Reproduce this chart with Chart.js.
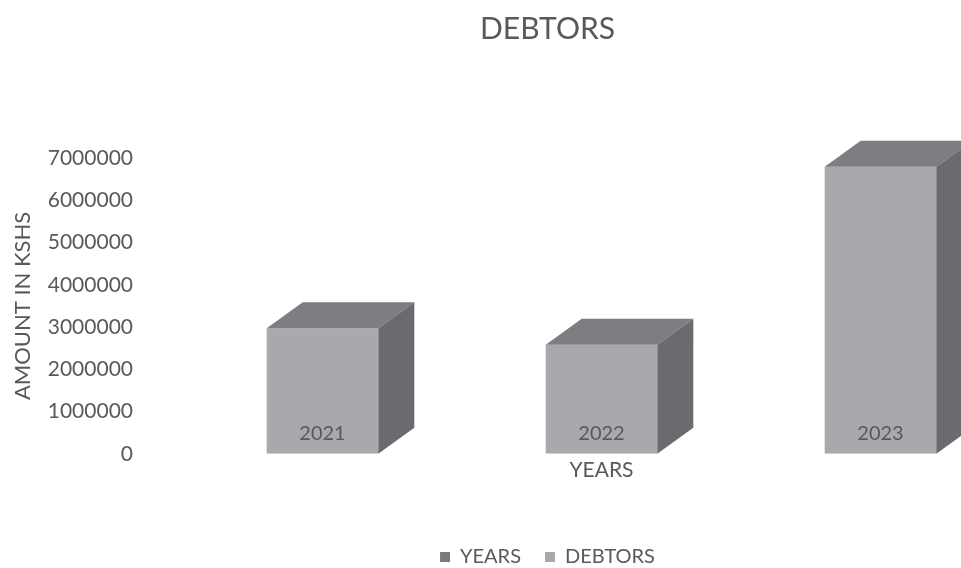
<!DOCTYPE html>
<html lang="en">
  <head>
    <meta charset="UTF-8" />
    <meta name="viewport" content="width=device-width, initial-scale=1.0" />
    <title>Debtors</title>
    <script src="https://cdn.jsdelivr.net/npm/chart.js"></script>
    <style>
      html,
      body {
        margin: 0;
        padding: 0;
        background: #ffffff;
      }
      .chart-wrap {
        width: 961px;
        height: 568px;
        overflow: hidden;
      }
      canvas {
        display: block;
      }
    </style>
  </head>
  <body>
    <div class="chart-wrap">
      <canvas id="debtorsChart" width="1095" height="568"></canvas>
    </div>

    <script>
      // Data
      const years = ["2021", "2022", "2023"];
      const yearSeries = [2021, 2022, 2023];
      const debtors = [2970000, 2580000, 6790000];
      const amountTicks = [
        0, 1000000, 2000000, 3000000, 4000000, 5000000, 6000000, 7000000,
      ];

      const textColor = "#595959";
      const fontFamily = "Lato, 'Open Sans', sans-serif";

      // Top and right faces of each column, built from the bar element
      const columns3d = {
        id: "columns3d",
        afterDatasetsDraw(chart, args, opts) {
          const meta = chart.getDatasetMeta(opts.datasetIndex);
          const ctx = chart.ctx;
          const dx = opts.depthX;
          const dy = opts.depthY;
          ctx.save();
          meta.data.forEach((bar) => {
            const { x, y, base, width } = bar.getProps(
              ["x", "y", "base", "width"],
              true
            );
            const left = x - width / 2;
            const right = x + width / 2;

            // top face
            ctx.fillStyle = opts.topColor;
            ctx.beginPath();
            ctx.moveTo(left, y);
            ctx.lineTo(left + dx, y - dy);
            ctx.lineTo(right + dx, y - dy);
            ctx.lineTo(right, y);
            ctx.closePath();
            ctx.fill();

            // side face
            ctx.fillStyle = opts.sideColor;
            ctx.beginPath();
            ctx.moveTo(right, y);
            ctx.lineTo(right + dx, y - dy);
            ctx.lineTo(right + dx, base - dy);
            ctx.lineTo(right, base);
            ctx.closePath();
            ctx.fill();
          });
          ctx.restore();
        },
      };

      const ctx = document.getElementById("debtorsChart").getContext("2d");
      new Chart(ctx, {
        type: "bar",
        data: {
          labels: years,
          datasets: [
            {
              label: "YEARS",
              data: yearSeries,
              backgroundColor: "#7a7a7c",
              grouped: false,
            },
            {
              label: "DEBTORS",
              data: debtors,
              backgroundColor: "#a9a9ad",
              grouped: false,
              categoryPercentage: 0.5,
              barPercentage: 0.8,
            },
          ],
        },
        plugins: [columns3d],
        options: {
          responsive: false,
          animation: false,
          devicePixelRatio: 1,
          layout: {
            padding: { left: 0, right: 0, top: 0, bottom: -9 },
          },
          plugins: {
            title: {
              display: true,
              text: "DEBTORS",
              color: textColor,
              font: { family: fontFamily, size: 30, weight: "normal" },
              padding: { top: 11, bottom: 111 },
            },
            legend: {
              position: "bottom",
              labels: {
                color: textColor,
                font: { family: fontFamily, size: 20 },
                boxWidth: 10,
                boxHeight: 10,
                padding: 24,
              },
            },
            tooltip: { enabled: false },
            columns3d: {
              datasetIndex: 1,
              depthX: 36,
              depthY: 26,
              topColor: "#7e7e82",
              sideColor: "#6b6b6f",
            },
          },
          scales: {
            x: {
              offset: true,
              grid: { display: false, drawTicks: false },
              border: { display: false },
              // year labels sit on the front of the columns
              ticks: {
                z: 1,
                mirror: true,
                color: textColor,
                font: { family: fontFamily, size: 20 },
                padding: 8,
              },
              title: {
                display: true,
                text: "YEARS",
                color: textColor,
                font: { family: fontFamily, size: 21 },
                padding: { top: -12, bottom: 40 },
              },
            },
            y: {
              min: amountTicks[0],
              max: amountTicks[amountTicks.length - 1],
              afterBuildTicks: (scale) => {
                scale.ticks = amountTicks.map((v) => ({ value: v }));
              },
              afterFit: (scale) => {
                scale.width = 183;
              },
              grid: { display: false, drawTicks: false },
              border: { display: false },
              ticks: {
                color: textColor,
                font: { family: fontFamily, size: 21 },
                padding: 50,
                callback: (v) => String(v),
              },
              title: {
                display: true,
                text: "AMOUNT IN KSHS",
                color: textColor,
                font: { family: fontFamily, size: 22 },
                padding: { top: 10, bottom: 4 },
              },
            },
            // empty strip on the right so the last column runs off the edge
            yRight: {
              position: "right",
              grid: { display: false, drawTicks: false },
              border: { display: false },
              ticks: { display: false },
              afterFit: (scale) => {
                scale.width = 75;
              },
            },
          },
        },
      });
    </script>
  </body>
</html>
